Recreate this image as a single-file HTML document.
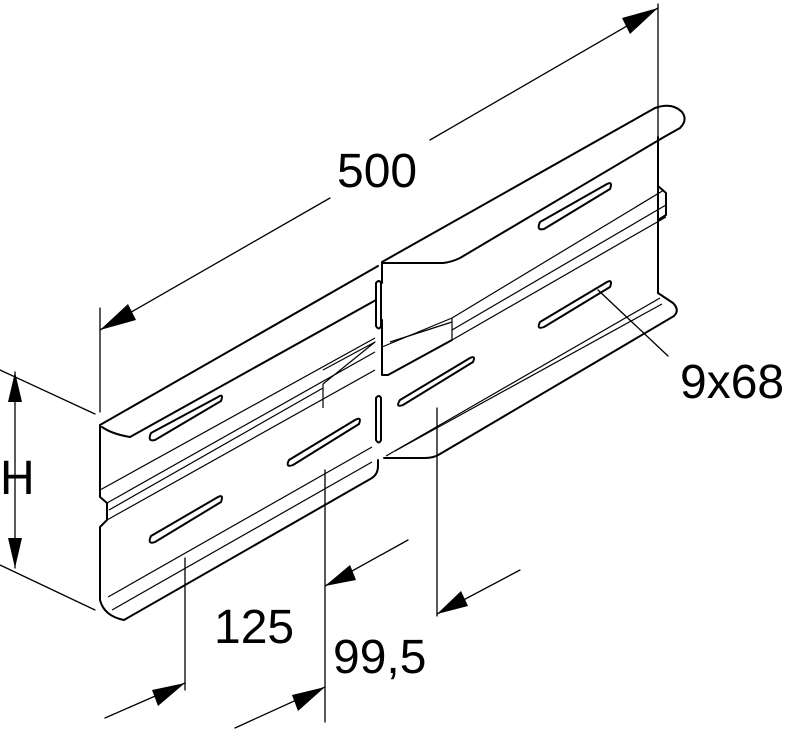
<!DOCTYPE html>
<html><head><meta charset="utf-8"><style>
html,body{margin:0;padding:0;background:#fff;}
svg{display:block;}
text{font-family:"Liberation Sans",sans-serif;fill:#000;}
</style></head><body>
<svg width="786" height="731" viewBox="0 0 786 731" xmlns="http://www.w3.org/2000/svg">
<g fill="none" stroke="#000" stroke-width="1.3" stroke-linejoin="round" stroke-linecap="round">
<line x1="100" y1="308" x2="100" y2="412"/>
<line x1="658" y1="4" x2="658" y2="140"/>
<line x1="100" y1="330" x2="330" y2="198"/>
<line x1="430" y1="140" x2="658" y2="8"/>
<line x1="15" y1="372" x2="15" y2="568"/>
<line x1="0" y1="370" x2="95" y2="414"/>
<line x1="0" y1="565" x2="95" y2="610"/>
<line x1="185" y1="558" x2="185" y2="690"/>
<line x1="325" y1="470" x2="325" y2="722"/>
<line x1="437" y1="408" x2="437" y2="616"/>
<line x1="105" y1="718" x2="185" y2="683"/>
<line x1="235" y1="728" x2="325" y2="687"/>
<line x1="325" y1="586" x2="408" y2="540"/>
<line x1="437" y1="614" x2="520" y2="570"/>
<line x1="598" y1="290" x2="668" y2="356"/>
</g>
<g fill="#000" stroke="none">
<polygon points="100,330 128,304 136,320"/>
<polygon points="658,8 630,34 622,18"/>
<polygon points="15,372 8,402 22,402"/>
<polygon points="15,568 8,538 22,538"/>
<polygon points="185,683 158,706 152,690"/>
<polygon points="325,687 298,711 292,695"/>
<polygon points="325,586 350,565 356,580"/>
<polygon points="437,614 461,591 468,606"/>
</g>
<text x="337" y="187" font-size="48">500</text>
<text x="0" y="494" font-size="48">H</text>
<text x="214" y="643" font-size="48">125</text>
<text x="333" y="673" font-size="48">99,5</text>
<text x="680" y="398" font-size="48">9x68</text>
<g fill="none" stroke="#000" stroke-width="2" stroke-linejoin="round" stroke-linecap="round">
<path d="M100,425 L378,266"/>
<path d="M102,427 Q112,434 130,437 L376,300"/>
<path d="M100,425 L100,497 L107,503 L107,520 L100,527 L100,600 Q104,616 124,620 L372,478 Q378,474 378,466 L378,460"/>
<path d="M382,263 L443,263 Q452,262 460,258 L664,137 L680,128 Q688,120 682,112 Q672,102 655,108 L382,262"/>
<path d="M382,263 L382,283"/>
<path d="M658,137 L658,293"/>
<path d="M658,186 L666,193 L666,215 L658,220"/>
<path d="M658,293 L673,303 Q680,310 674,316 L440,454 Q434,458 425,458 L384,458"/>
<path d="M382,320 L382,375 L388,375 L452,340"/>
<path d="M151,433 L218,397 Q224,393 221,401 L155,440 Q147,442 151,433 Z"/>
<path d="M289,460 L355,420 Q362,416 359,424 L293,465 Q285,468 289,460 Z"/>
<path d="M151,536 L218,497 Q224,494 221,502 L155,542 Q147,545 151,536 Z"/>
<path d="M400,400 L470,358 Q476,355 473,362 L403,405 Q395,408 400,400 Z"/>
<path d="M540,222 L607,184 Q613,181 610,189 L544,229 Q536,231 540,222 Z"/>
<path d="M540,322 L607,282 Q613,279 610,287 L544,327 Q536,330 540,322 Z"/>
<path d="M376,283 Q379,279 381,283 L381,326 Q379,331 376,326 Z"/>
<path d="M376,398 Q379,394 381,398 L381,440 Q379,445 376,440 Z"/>
</g>
<g fill="none" stroke="#000" stroke-width="1.2" stroke-linejoin="round">
<path d="M100,490 L375,338"/>
<path d="M107,503 L375,352"/>
<path d="M109,510 L323,388"/>
<path d="M107,520 L375,370"/>
<path d="M108,597 L372,447"/>
<path d="M112,610 L372,462"/>
<path d="M323,384 L375,342 L323,370"/>
<path d="M323,384 L323,408"/>
<path d="M382,347 L452,318 L664,190"/>
<path d="M390,342 L452,322"/>
<path d="M452,318 L452,340"/>
<path d="M452,330 L666,205"/>
<path d="M452,340 L666,217"/>
<path d="M386,456 L660,298"/>
<path d="M395,451 L662,304"/>
</g>
</svg>
</body></html>
